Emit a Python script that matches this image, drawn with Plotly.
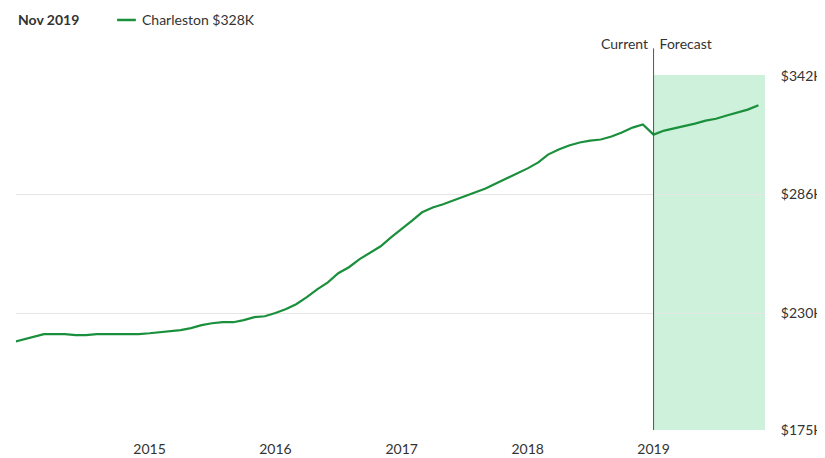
import plotly.graph_objects as go
import pandas as pd

# Monthly home value index (thousands USD), Dec 2013 .. Nov 2019
dates = pd.date_range("2013-12-01", "2019-11-01", freq="MS")
values = [216.4, 217.8, 219.2, 220.2, 220.2, 220.2, 219.7, 219.7, 220.2, 220.2, 220.2, 220.2, 220.2,
          220.6, 221.1, 221.6, 222.1, 223.0, 224.4, 225.3, 225.8, 225.8, 226.8, 228.2, 228.6,
          230.1, 232.0, 234.3, 237.6, 241.3, 244.6, 248.9, 251.7, 255.5, 258.3, 261.6, 265.8,
          269.6, 273.8, 277.6, 279.9, 281.4, 283.2, 285.1, 287.0, 288.8, 291.2, 293.6, 295.9,
          298.3, 301.1, 304.8, 307.2, 309.1, 310.5, 311.4, 311.9, 313.3, 315.2, 317.5, 319.0,
          314.2, 316.1, 317.1, 318.0, 319.4, 320.8, 321.7, 323.2, 324.6, 326.0, 328.0]
y_ticks = [175, 230, 286, 342]
y_labels = ["$175K", "$230K", "$286K", "$342K"]
forecast_start = "2019-01-01"
x_end = "2019-11-20"

green = "#1a8f3c"
font_col = "#333"
fig = go.Figure()

fig.add_vrect(x0=forecast_start, x1=x_end, fillcolor="#cdf1db", line_width=0, layer="below")
fig.add_shape(type="line", xref="x", yref="paper", x0=forecast_start, x1=forecast_start,
              y0=0, y1=1.075, line=dict(color="#555", width=1))

fig.add_trace(go.Scatter(x=dates, y=values, mode="lines", line=dict(color=green, width=2.2),
                         name="Charleston $328K", showlegend=False))

fig.add_annotation(x=forecast_start, y=1.06, xref="x", yref="paper", text="Current ",
                   showarrow=False, xanchor="right", yanchor="bottom",
                   font=dict(size=14, color=font_col))
fig.add_annotation(x=forecast_start, y=1.06, xref="x", yref="paper", text=" Forecast",
                   showarrow=False, xanchor="left", yanchor="bottom",
                   font=dict(size=14, color=font_col))

# header legend
fig.add_annotation(x=0, y=445, xref="paper", yref="paper", text="<b>Nov 2019</b>",
                   showarrow=False, xanchor="left", yanchor="middle",
                   font=dict(size=14, color=font_col))
fig.update_annotations()
fig.layout.annotations[-1].update(y=1.155)
fig.add_shape(type="line", xref="paper", yref="paper", x0=0.135, x1=0.16, y0=1.155, y1=1.155,
              line=dict(color=green, width=2.5))
fig.add_annotation(x=0.165, y=1.155, xref="paper", yref="paper", text="Charleston $328K",
                   showarrow=False, xanchor="left", yanchor="middle",
                   font=dict(size=14, color=font_col))

fig.update_layout(
    width=825, height=458,
    margin=dict(l=8, r=68, t=67, b=36),
    plot_bgcolor="white", paper_bgcolor="white",
    font=dict(family="Lato, Open Sans, sans-serif", size=14, color=font_col),
    xaxis=dict(range=["2013-12-10", x_end], showgrid=False, zeroline=False,
               tickvals=["2015-01-01", "2016-01-01", "2017-01-01", "2018-01-01", "2019-01-01"],
               ticktext=["2015", "2016", "2017", "2018", "2019"],
               ticks="outside", ticklen=6, tickcolor="white"),
    yaxis=dict(range=[175, 342.3], side="right", tickvals=y_ticks, ticktext=y_labels,
               showgrid=True, gridcolor="#e6e6e6", zeroline=False,
               ticks="outside", ticklen=12, tickcolor="white"),
)

fig.write_html("out.html")
